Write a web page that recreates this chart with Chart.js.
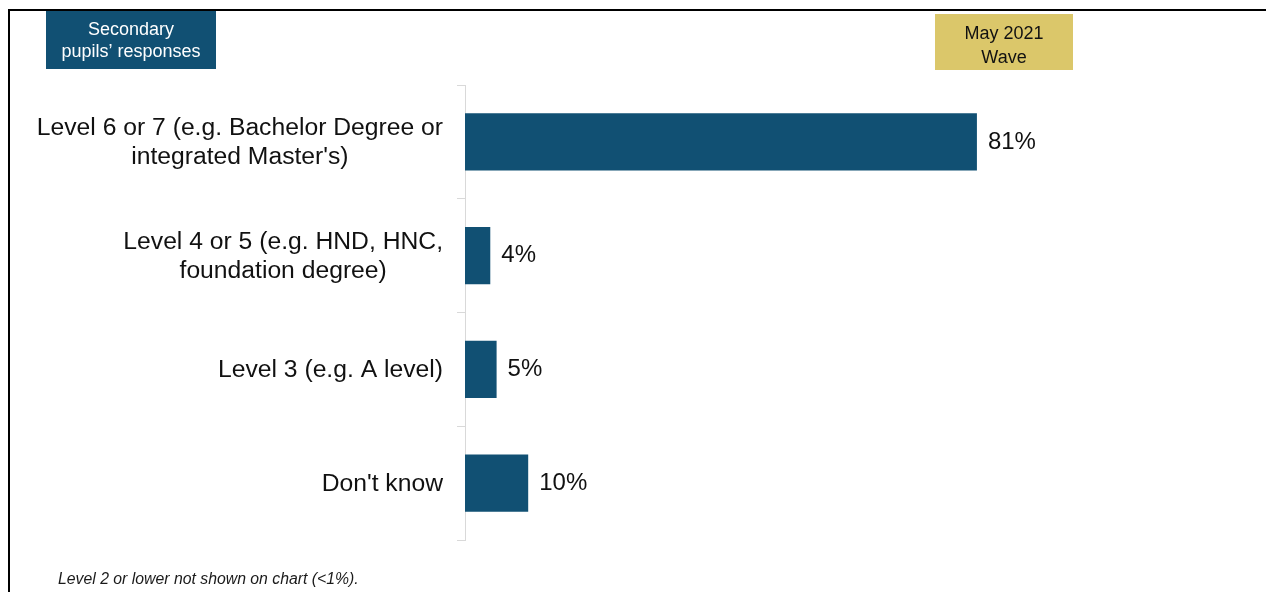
<!DOCTYPE html>
<html>
<head>
<meta charset="utf-8">
<title>Highest qualification expected – secondary pupils</title>
<script src="https://cdn.jsdelivr.net/npm/chart.js@4.4.1/dist/chart.umd.min.js"></script>
<style>
  html, body { margin: 0; padding: 0; background: #ffffff; }
  #wrap { position: relative; width: 1266px; height: 592px; }
  canvas { display: block; }
</style>
</head>
<body>
<div id="wrap"><canvas id="chart" width="1266" height="592"></canvas></div>
<script>
// Qualification levels (one array entry per line of the axis label)
const categories = [
  ["Level 6 or 7 (e.g. Bachelor Degree or", "integrated Master's)"],
  ["Level 4 or 5 (e.g. HND, HNC,", "foundation degree)"],
  ["Level 3 (e.g. A level)"],
  ["Don't know"]
];
// Share of pupils (%)
const shares = [81, 4, 5, 10];
const valueSuffix = "%";

const groupLabel = ["Secondary", "pupils\u2019 responses"];
const waveLabel = ["May 2021", "Wave"];
const footnote = "Level 2 or lower not shown on chart (<1%).";

const FONT = "'Liberation Sans', Arial, Helvetica, sans-serif";
const NAVY = "#115073";
const GOLD = "#dbc76a";

// Frame, header boxes and footnote around the plot
const decorations = {
  id: "decorations",
  beforeDraw(chart) {
    const ctx = chart.ctx;
    ctx.save();
    ctx.fillStyle = "#ffffff";
    ctx.fillRect(0, 0, chart.width, chart.height);
    ctx.fillStyle = "#000000";
    ctx.fillRect(8, 9, chart.width - 8, 2);
    ctx.fillRect(8, 9, 2, chart.height - 9);

    ctx.fillStyle = NAVY;
    ctx.fillRect(46, 11, 170, 58);
    ctx.fillStyle = GOLD;
    ctx.fillRect(935, 14, 138, 56);

    ctx.font = "18px " + FONT;
    ctx.textAlign = "center";
    ctx.textBaseline = "middle";
    ctx.fillStyle = "#ffffff";
    ctx.fillText(groupLabel[0], 131, 30);
    ctx.fillText(groupLabel[1], 131, 52);
    ctx.fillStyle = "#111111";
    ctx.fillText(waveLabel[0], 1004, 34);
    ctx.fillText(waveLabel[1], 1004, 58);

    ctx.font = "italic 15.8px " + FONT;
    ctx.textAlign = "left";
    ctx.fillStyle = "#1a1a1a";
    ctx.fillText(footnote, 58, 580);
    ctx.restore();
  }
};

// Category labels: each block right-aligned to the axis, its lines centred on each other
const categoryLabels = {
  id: "categoryLabels",
  afterDraw(chart) {
    const ctx = chart.ctx;
    const scale = chart.scales.y;
    const rightEdge = scale.right - 8 - 14;
    const lineH = 29;
    ctx.save();
    ctx.font = "24.7px " + FONT;
    ctx.fillStyle = "#111111";
    ctx.textAlign = "center";
    ctx.textBaseline = "middle";
    categories.forEach((lines, i) => {
      const y = scale.getPixelForTick(i);
      const blockW = Math.max(...lines.map(l => ctx.measureText(l).width));
      const cx = rightEdge - blockW / 2;
      lines.forEach((line, j) => {
        ctx.fillText(line, cx, y + 1 + (j - (lines.length - 1) / 2) * lineH);
      });
    });
    ctx.restore();
  }
};

// Percentage printed just past the end of each bar
const valueLabels = {
  id: "valueLabels",
  afterDatasetsDraw(chart) {
    const ctx = chart.ctx;
    const meta = chart.getDatasetMeta(0);
    ctx.save();
    ctx.font = "24px " + FONT;
    ctx.fillStyle = "#111111";
    ctx.textAlign = "left";
    ctx.textBaseline = "middle";
    meta.data.forEach((bar, i) => {
      ctx.fillText(shares[i] + valueSuffix, bar.x + 11, bar.y);
    });
    ctx.restore();
  }
};

new Chart(document.getElementById("chart"), {
  type: "bar",
  data: {
    labels: categories,
    datasets: [{
      data: shares,
      backgroundColor: NAVY,
      borderWidth: 0,
      barPercentage: 0.505,
      categoryPercentage: 1.0
    }]
  },
  options: {
    indexAxis: "y",
    responsive: false,
    animation: false,
    devicePixelRatio: 1,
    layout: { padding: { left: 20, right: 169, top: 85, bottom: 52 } },
    plugins: {
      legend: { display: false },
      tooltip: { enabled: false }
    },
    scales: {
      x: {
        display: false,
        min: 0,
        max: 100
      },
      y: {
        afterFit(scale) { scale.width = 445; },
        grid: {
          offset: true,
          drawOnChartArea: false,
          drawTicks: true,
          tickLength: 8,
          color: "#d9d9d9",
          lineWidth: 1
        },
        border: { display: true, color: "#d9d9d9", width: 1 },
        ticks: {
          color: "rgba(0,0,0,0)",
          padding: 14,
          font: { family: FONT, size: 24, lineHeight: 1.22 }
        }
      }
    }
  },
  plugins: [decorations, categoryLabels, valueLabels]
});
</script>
</body>
</html>
